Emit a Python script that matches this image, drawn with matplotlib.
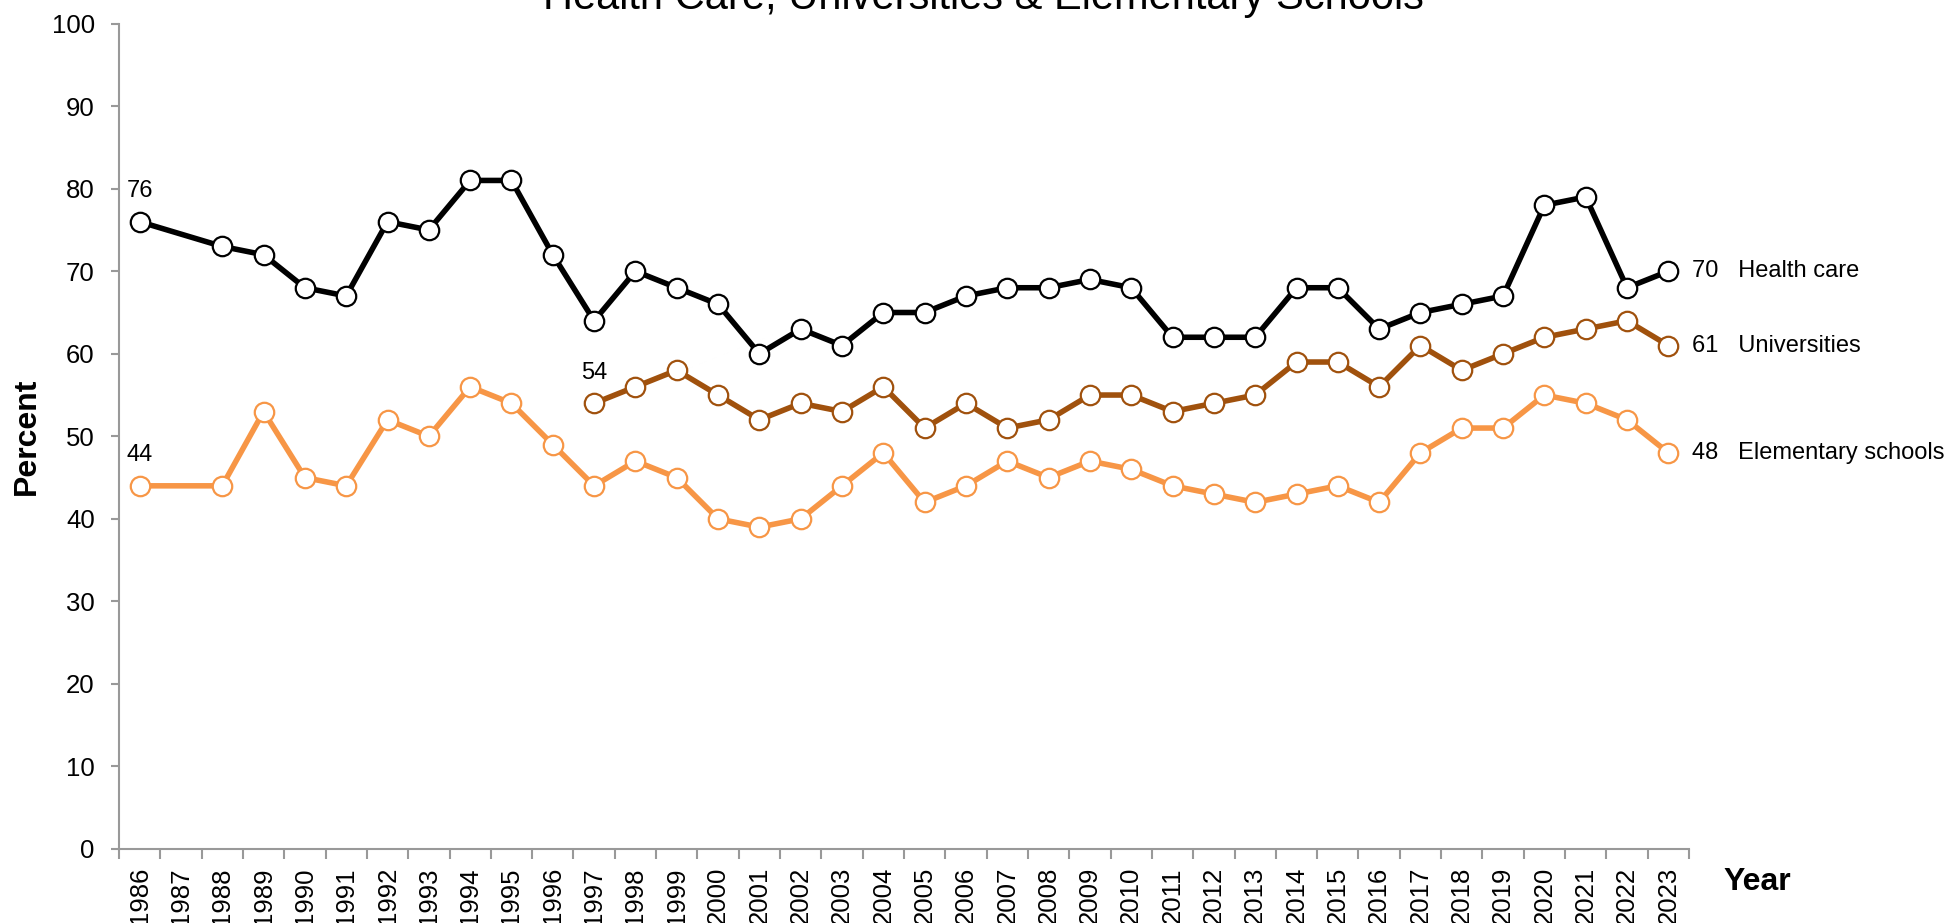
import numpy as np
import matplotlib
matplotlib.use("Agg")
import matplotlib.pyplot as plt

plt.rcParams["font.family"] = ["Liberation Sans", "DejaVu Sans"]

years = list(range(1986, 2024))

# None = not surveyed that year
health_care = [76, None, 73, 72, 68, 67, 76, 75, 81, 81, 72, 64, 70, 68, 66, 60, 63, 61, 65,
               65, 67, 68, 68, 69, 68, 62, 62, 62, 68, 68, 63, 65, 66, 67, 78, 79, 68, 70]
universities = [None] * 11 + [54, 56, 58, 55, 52, 54, 53, 56, 51, 54, 51, 52, 55, 55, 53, 54,
                              55, 59, 59, 56, 61, 58, 60, 62, 63, 64, 61]
elementary = [44, None, 44, 53, 45, 44, 52, 50, 56, 54, 49, 44, 47, 45, 40, 39, 40, 44, 48,
              42, 44, 47, 45, 47, 46, 44, 43, 42, 43, 44, 42, 48, 51, 51, 55, 54, 52, 48]

series = [
    ("Health care", health_care, "#000000"),
    ("Universities", universities, "#A0510D"),
    ("Elementary schools", elementary, "#F79646"),
]

fig = plt.figure(figsize=(19.47, 9.23), dpi=100)
ax = fig.add_axes([0.0611, 0.0802, 0.8064, 0.8942])

x_all = np.arange(len(years))
for name, vals, color in series:
    v = np.array([np.nan if a is None else a for a in vals], dtype=float)
    ok = ~np.isnan(v)
    xs, ys = x_all[ok], v[ok]
    ax.plot(xs, ys, color=color, lw=4.0, marker="o", ms=14, mfc="white",
            mec=color, mew=1.6, zorder=3, clip_on=False)
    # first value above the first point
    ax.annotate(f"{ys[0]:.0f}", (xs[0], ys[0]), xytext=(0, 14), textcoords="offset points",
                ha="center", va="bottom", fontsize=17)
    # last value + name to the right
    ax.annotate(f"{ys[-1]:.0f}   {name}", (xs[-1], ys[-1]), xytext=(17, 0),
                textcoords="offset points", ha="left", va="center", fontsize=17,
                annotation_clip=False)

ax.set_xlim(-0.5, len(years) - 0.5)
ax.set_ylim(0, 100)
ax.set_yticks(range(0, 101, 10))

ax.set_xticks(np.arange(-0.5, len(years), 1.0))
ax.set_xticklabels([])
ax.set_xticks(x_all, minor=True)
ax.set_xticklabels([str(y) for y in years], minor=True, rotation=90)

grey = "#999999"
for side in ["top", "right"]:
    ax.spines[side].set_visible(False)
for side in ["left", "bottom"]:
    ax.spines[side].set_color(grey)
    ax.spines[side].set_linewidth(1.5)
ax.tick_params(axis="y", which="major", length=5.5, width=1.5, color=grey, labelsize=18.5, pad=12)
ax.tick_params(axis="x", which="major", length=7, width=1.5, color=grey)
ax.tick_params(axis="x", which="minor", length=0, labelsize=18.5, pad=13)

ax.set_ylabel("Percent", fontsize=23, fontweight="bold", va="center")
ax.yaxis.set_label_coords(-0.0586, 0.5)

fig.text(1757 / 1947, 1 - 882 / 923, "Year", fontsize=23, fontweight="bold",
         ha="center", va="center")
fig.text(0.505, 1 - 9 / 923, "Health Care, Universities & Elementary Schools",
         fontsize=30, ha="center", va="baseline")

fig.savefig("out.png", dpi=100)
